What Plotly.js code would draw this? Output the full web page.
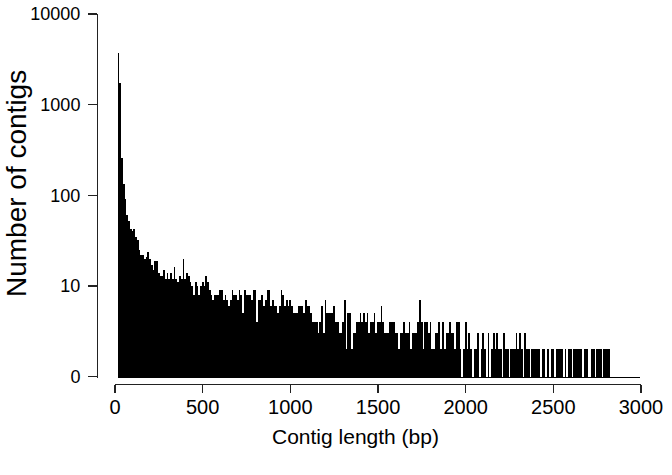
<!DOCTYPE html>
<html>
<head>
<meta charset="utf-8">
<script src="https://cdn.plot.ly/plotly-3.0.1.min.js"></script>
<style>html,body{margin:0;padding:0;background:#fff;}#chart{width:672px;height:475px;}</style>
</head>
<body>
<div id="chart"></div>
<script>
// Histogram of contig lengths: 10 bp bins starting at 15 bp
const binStart = 15;
const binWidth = 10;

const countsShort = [3700, 1750, 260, 135, 90, 60, 52, 42, 40, 43, 35, 32, 25, 22, 22, 20, 21, 24, 20, 17, 15, 19, 19, 14, 13, 13, 15, 12, 14, 12, 14, 12, 16, 12, 11, 13, 12, 20, 12, 14, 13, 11, 10, 8, 11, 10, 8];
const countsB = [10, 11, 10, 13, 11, 9, 8, 7, 8, 8, 8, 9, 9, 7, 8, 7, 6, 7, 9, 8, 8, 7, 9, 8, 5, 9, 8, 8, 8, 7, 9, 9, 4, 7, 7, 8, 6, 7, 9, 9, 6, 7, 6, 6, 5, 6, 9, 8, 6, 7, 6];
const countsC = [7, 6, 5, 5, 5, 6, 6, 6, 5, 7, 6, 6, 5, 4, 4, 4, 3, 4, 6, 3, 7, 5, 5, 5, 5, 6, 4, 4, 3, 3, 4, 7, 2, 5, 5, 2, 3, 3, 4, 4, 5, 4, 5, 4, 5, 3, 4, 4, 5, 3, 4];
const countsD = [4, 6, 4, 3, 3, 3, 4, 4, 4, 3, 3, 2, 3, 3, 4, 3, 3, 4, 2, 3, 3, 3, 4, 7, 4, 2, 4, 4, 3, 4, 2, 2, 3, 3, 4, 2, 4, 2, 3, 3, 4, 3, 3, 2, 4, 4, 2, 1, 2, 4, 2];
const countsE = [3, 2, 1, 2, 2, 3, 1, 2, 3, 2, 1, 3, 1, 2, 3, 2, 3, 2, 2, 1, 3, 2, 2, 1, 2, 2, 2, 3, 2, 3, 2, 1, 3, 2, 2, 1, 2, 2, 2, 2, 2, 1, 2, 2, 1, 2, 1, 2, 2, 1, 2];
const countsF = [2, 2, 2, 1, 2, 1, 2, 2, 1, 2, 2, 2, 2, 2, 1, 2, 2, 1, 1, 2, 2, 1, 2, 2, 2, 1, 2, 2, 2, 2];
const countsG = [1, 1, 1, 1, 1, 1, 1, 1, 1, 1, 1, 1, 1, 1, 1, 1, 1];

const xTickVals = [0, 500, 1000, 1500, 2000, 2500, 3000];
const yTickVals = [1, 10, 100, 1000, 10000];
const yTickText = ['0', '10', '100', '1000', '10000'];
const xTitle = 'Contig length (bp)';
const yTitle = 'Number of contigs';

const counts = [].concat(countsShort, countsB, countsC, countsD, countsE, countsF, countsG);
const centers = counts.map((_, i) => binStart + (i + 0.5) * binWidth);

const sans = '"Liberation Sans", Arial, sans-serif';

const trace = {
  type: 'bar',
  x: centers,
  y: counts,
  width: binWidth,
  marker: {color: '#000', line: {width: 0}},
  hoverinfo: 'x+y'
};

const layout = {
  width: 672, height: 475,
  margin: {l: 97, r: 31, t: 14, b: 91},
  paper_bgcolor: '#fff', plot_bgcolor: '#fff',
  showlegend: false,
  bargap: 0,
  xaxis: {
    domain: [0.0331, 1],
    anchor: 'free', position: 0,
    range: [0, 3000],
    tickvals: xTickVals,
    ticks: 'outside', ticklen: 8, tickwidth: 1.4, tickcolor: '#222',
    showline: true, linecolor: '#222', linewidth: 1.4,
    showgrid: false, zeroline: false,
    ticklabeloverflow: 'allow',
    ticklabelstandoff: -3,
    tickfont: {family: sans, size: 20, color: '#000'}
  },
  yaxis: {
    type: 'log',
    domain: [0.0162, 1],
    anchor: 'free', position: 0,
    range: [-0.015, 4],
    tickvals: yTickVals, ticktext: yTickText,
    ticks: 'outside', ticklen: 9, tickwidth: 1.4, tickcolor: '#222',
    showline: true, linecolor: '#222', linewidth: 1.4,
    showgrid: false, zeroline: false,
    tickfont: {family: sans, size: 18, color: '#000'},
    ticklabelstandoff: 4
  },
  annotations: [
    {text: xTitle, xref: 'paper', yref: 'paper', x: 0.476, y: -0.143,
     xanchor: 'center', yanchor: 'middle', showarrow: false,
     font: {family: sans, size: 21, color: '#000'}},
    {text: yTitle, xref: 'paper', yref: 'paper', x: -0.149, y: 0.543,
     xanchor: 'center', yanchor: 'middle', showarrow: false, textangle: -90,
     font: {family: sans, size: 28, color: '#000'}}
  ]
};

Plotly.newPlot('chart', [trace], layout, {displayModeBar: false, staticPlot: true});
</script>
</body>
</html>
